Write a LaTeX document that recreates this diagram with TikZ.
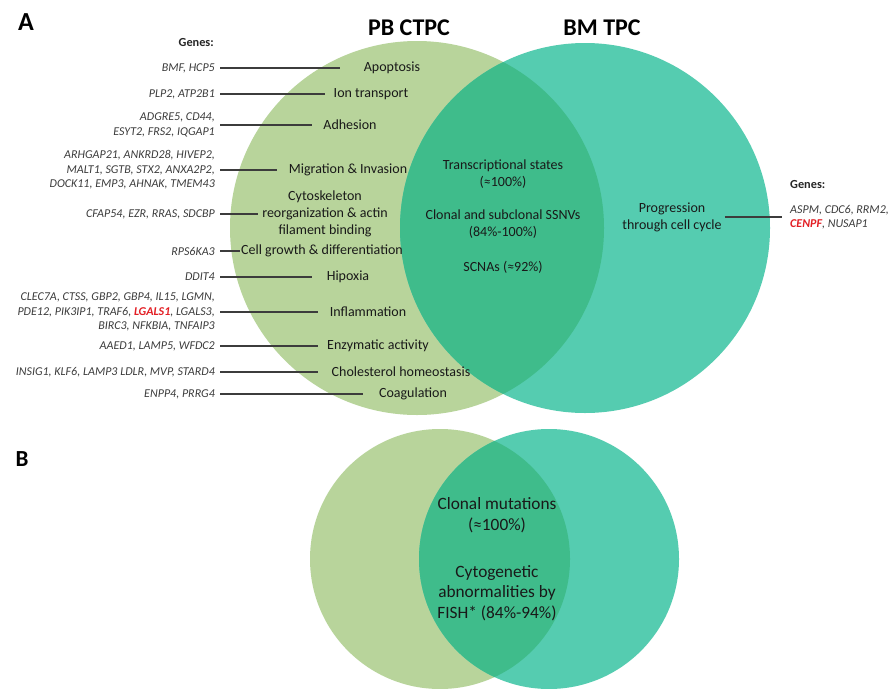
\documentclass[tikz,border=0pt]{standalone}
\usepackage{fontspec}
\setmainfont{Carlito}
\definecolor{gfill}{HTML}{B8D49B}
\definecolor{tfill}{HTML}{55CCB0}
\definecolor{ofill}{HTML}{3FBC8B}
\definecolor{gtxt}{HTML}{3C3C3C}
\definecolor{rtxt}{HTML}{E31E24}
\begin{document}
\begin{tikzpicture}[x=1pt,y=-1pt,
  gene/.style={font=\fontsize{12}{14.5}\selectfont\itshape, text=gtxt, align=right, anchor=east, inner sep=0pt},
  proc/.style={font=\fontsize{14}{17}\selectfont, align=center, inner sep=0pt, text=black!90},
  bproc/.style={font=\fontsize{17.3}{20.5}\selectfont, align=center, inner sep=0pt, text=black!90},
  head/.style={font=\bfseries\fontsize{12.3}{14}\selectfont, inner sep=0pt, text=black!85},
  title/.style={font=\bfseries\fontsize{24}{26}\selectfont, inner sep=0pt},
  panel/.style={font=\bfseries\fontsize{26}{28}\selectfont, inner sep=0pt},
  conn/.style={draw=gtxt, line width=1.2pt}]
\useasboundingbox (0,0) rectangle (890,688);
\fill[white] (0,0) rectangle (890,688);

% ---------- Panel A circles ----------
\fill[gfill] (417,228) circle[radius=187pt];
\fill[tfill] (585,228) circle[radius=185pt];
\begin{scope}
  \clip (417,228) circle[radius=187pt];
  \fill[ofill] (585,228) circle[radius=185pt];
\end{scope}

% ---------- Panel B circles ----------
\fill[gfill] (440,559) circle[radius=130pt];
\fill[tfill] (549,559) circle[radius=130pt];
\begin{scope}
  \clip (440,559) circle[radius=130pt];
  \fill[ofill] (549,559) circle[radius=130pt];
\end{scope}

% ---------- Titles ----------
\node[panel] (pa) at (26,22) {A};
\node[panel, font=\bfseries\fontsize{23}{26}\selectfont] (pb) at (22,459) {B};
\node[title] (t1) at (409,28) {PB CTPC};
\node[title] (t2) at (602,28) {BM TPC};
\node[head, anchor=east] (gh) at (214,43) {Genes:};
\node[head, anchor=west] (ghr) at (790,185) {Genes:};

% ---------- Process labels ----------
\node[proc] (p1)  at (392,68)  {Apoptosis};
\node[proc] (p2)  at (371,94)  {Ion transport};
\node[proc] (p3)  at (350,125) {Adhesion};
\node[proc] (p4)  at (348,170) {Migration \& Invasion};
\node[proc] (p5)  at (325,214) {Cytoskeleton\\reorganization \& actin\\filament binding};
\node[proc] (p6)  at (322,251) {Cell growth \& differentiation};
\node[proc] (p7)  at (348,277) {Hipoxia};
\node[proc] (p8)  at (368,312) {Inflammation};
\node[proc] (p9)  at (378,346) {Enzymatic activity};
\node[proc] (p10) at (401,372) {Cholesterol homeostasis};
\node[proc] (p11) at (413,394) {Coagulation};

% ---------- Gene labels ----------
\node[gene] (g1)  at (215,68)  {BMF, HCP5};
\node[gene] (g2)  at (215,94)  {PLP2, ATP2B1};
\node[gene] (g3)  at (215,125) {ADGRE5, CD44,\\ESYT2, FRS2, IQGAP1};
\node[gene] (g4)  at (215,170) {ARHGAP21, ANKRD28, HIVEP2,\\MALT1, SGTB, STX2, ANXA2P2,\\DOCK11, EMP3, AHNAK, TMEM43};
\node[gene] (g5)  at (215,214) {CFAP54, EZR, RRAS, SDCBP};
\node[gene] (g6)  at (215,251) {RPS6KA3};
\node[gene] (g7)  at (215,277) {DDIT4};
\node[gene] (g8)  at (215,312) {CLEC7A, CTSS, GBP2, GBP4, IL15, LGMN,\\PDE12, PIK3IP1, TRAF6, {\color{rtxt}\bfseries LGALS1}, LGALS3,\\BIRC3, NFKBIA, TNFAIP3};
\node[gene] (g9)  at (215,346) {AAED1, LAMP5, WFDC2};
\node[gene] (g10) at (215,372) {INSIG1, KLF6, LAMP3 LDLR, MVP, STARD4};
\node[gene] (g11) at (215,394) {ENPP4, PRRG4};

% connector ends
\coordinate (e1)  at (340,68);
\coordinate (e2)  at (325,94);
\coordinate (e3)  at (312,125);
\coordinate (e4)  at (277,170);
\coordinate (e5)  at (258,214);
\coordinate (e6)  at (240,251);
\coordinate (e7)  at (312,277);
\coordinate (e8)  at (318,312);
\coordinate (e9)  at (318,346);
\coordinate (e10) at (318,372);
\coordinate (e11) at (363,394);
\foreach \i in {1,...,11}{
  \draw[conn] ([xshift=5pt]g\i.east) -- (e\i);
}

% ---------- Intersection A ----------
\node[proc] (i1) at (503,174) {Transcriptional states\\(≈100\%)};
\node[proc] (i2) at (503,224) {Clonal and subclonal SSNVs\\(84\%-100\%)};
\node[proc] (i3) at (503,267) {SCNAs (≈92\%)};

% ---------- Right side A ----------
\node[proc] (pr) at (672,217) {Progression\\through cell cycle};
\node[gene, align=left, anchor=west] (gr) at (790,217) {ASPM, CDC6, RRM2,\\{\color{rtxt}\bfseries CENPF}, NUSAP1};
\coordinate (er) at (782,217);
\draw[conn] ([xshift=3pt]pr.east) -- (er);

% ---------- Panel B text ----------
\node[bproc] (b1) at (497,515) {Clonal mutations\\(≈100\%)};
\node[bproc] (b2) at (497,593) {Cytogenetic\\abnormalities by\\FISH* (84\%-94\%)};
\end{tikzpicture}
\end{document}
